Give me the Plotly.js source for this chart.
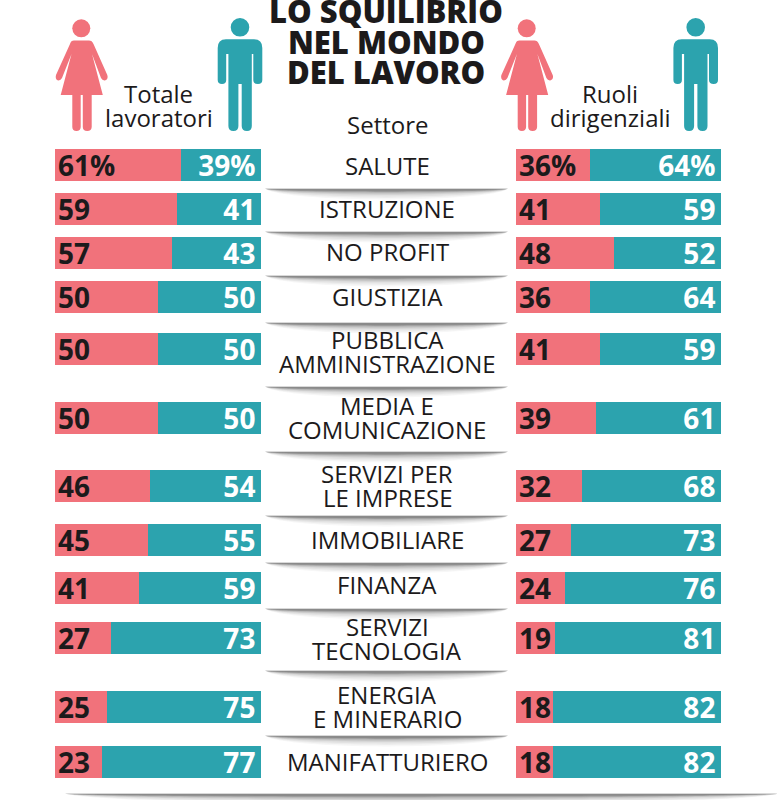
<!DOCTYPE html>
<html>
<head>
<meta charset="utf-8">
<script src="https://cdn.plot.ly/plotly-3.0.1.min.js"></script>
<style>html,body{margin:0;padding:0;background:#fff}#c{width:777px;height:800px}</style>
</head>
<body>
<div id="c"></div>
<script>
const categories = ["SALUTE","ISTRUZIONE","NO PROFIT","GIUSTIZIA","PUBBLICA<br>AMMINISTRAZIONE","MEDIA E<br>COMUNICAZIONE","SERVIZI PER<br>LE IMPRESE","IMMOBILIARE","FINANZA","SERVIZI<br>TECNOLOGIA","ENERGIA<br>E MINERARIO","MANIFATTURIERO"];
const totalWomen = [61,59,57,50,50,50,46,45,41,27,25,23];
const totalMen = [39,41,43,50,50,50,54,55,59,73,75,77];
const leadWomen = [36,41,48,36,41,39,32,27,24,19,18,18];
const leadMen = [64,59,52,64,59,61,68,73,76,81,82,82];
const titleLines = ["LO SQUILIBRIO","NEL MONDO","DEL LAVORO"];

const W = 777, H = 800;
const CORAL = "#f1727b", TEAL = "#2ca3ae", INK = "#1c1a1b";
const rowCenters = [165,209,253,297,349,418,486,540,588,638,707,762];
const labelCenters = [165,208,252,296,351,417,485,539,584,638,706,761];
const separators = [190,233,277,324,388,453,517,564,610,672,737];
const FONT = "'Open Sans', sans-serif";

const pad = '<span style="font-size:10px">\u00a0</span>';
const labels = (vals,trail) => vals.map((v,i) => (i === 0 ? v + "%" : String(v)) + (trail ? pad : ""));
function bar(vals, color, txt, anchor, xa, name){
  return {type:"bar", orientation:"h", x:vals, y:rowCenters, xaxis:xa, yaxis:"y", name:name,
    width:32, marker:{color:color,line:{width:0}}, text:labels(vals, anchor==="end"), textposition:"inside",
    insidetextanchor:anchor, textangle:0, constraintext:"none",
    insidetextfont:{family:FONT,size:28,color:txt,weight:700}, hoverinfo:"skip", showlegend:false};
}
const data = [
  bar(totalWomen, CORAL, INK, "start", "x", "Donne"),
  bar(totalMen, TEAL, "#ffffff", "end", "x", "Uomini"),
  bar(leadWomen, CORAL, INK, "start", "x2", "Donne"),
  bar(leadMen, TEAL, "#ffffff", "end", "x2", "Uomini")
];

const conv = s => s.replace(/(-?[\d.]+),(-?[\d.]+)/g, (m,a,b) => (a/W).toFixed(5)+","+(1-b/H).toFixed(5));
const pathShape = (d,color,op) => ({type:"path",xref:"paper",yref:"paper",path:conv(d),fillcolor:color,opacity:op===undefined?1:op,line:{width:0},layer:"below"});
const circle = (cx,cy,r,color) => ({type:"circle",xref:"paper",yref:"paper",x0:(cx-r)/W,x1:(cx+r)/W,y0:1-(cy+r)/H,y1:1-(cy-r)/H,fillcolor:color,line:{width:0},layer:"below"});

function woman(dx){
  const t = d => d.replace(/(-?[\d.]+),(-?[\d.]+)/g,(m,a,b)=>(+a+dx)+","+b);
  return [
    circle(81.3+dx,28.3,9,CORAL),
    pathShape(t("M 74,40.5 L 89,40.5 Q 92,40.5 93.5,44 L 107.3,75 Q 108.5,79 105.5,80.3 Q 102.5,81 101,78 L 92,54 L 102.8,95 L 91.7,95 L 91.7,127 Q 91.5,131 87.2,131 Q 82.9,131 82.8,127 L 82.8,95 L 80.7,95 L 80.7,127 Q 80.5,131 76.5,131 Q 72.4,131 72.3,127 L 72.3,95 L 60.7,95 L 71.5,54 L 62,78 Q 60.5,81 57.5,80.3 Q 55,79 56,75 L 70,44 Q 71,40.5 74,40.5 Z"),CORAL)
  ];
}
function man(dx){
  const t = d => d.replace(/(-?[\d.]+),(-?[\d.]+)/g,(m,a,b)=>(+a+dx)+","+b);
  return [
    circle(240+dx,27.3,9.3,TEAL),
    pathShape(t("M 226,39.3 L 254,39.3 Q 262.3,39.3 262.3,48 L 262.3,80 Q 262.3,84 258,84 Q 253.3,84 253.3,80 L 253.3,54 L 251.8,54 L 251.8,126 Q 251.8,131 247,131 Q 241.7,131 241.7,126 L 241.7,84 L 238.4,84 L 238.4,126 Q 238.4,131 233.4,131 Q 228.4,131 228.4,126 L 228.4,54 L 226.2,54 L 226.2,80 Q 226.2,84 222,84 Q 217.7,84 217.7,80 L 217.7,48 Q 217.7,39.3 226,39.3 Z"),TEAL)
  ];
}
function shadow(y,x0,x1){
  const out=[], span=x1-x0;
  [[13,0.04],[11,0.05],[9,0.06],[7,0.08],[5.5,0.1],[4,0.12],[3,0.15],[2,0.18]].forEach(([h,o])=>{
    const a=x0+span*0.08, b=x1-span*0.08;
    out.push(pathShape(`M ${x0},${y-1.2} L ${x1},${y-1.2} C ${b},${y+h} ${a},${y+h} ${x0},${y-1.2} Z`,"#333333",o));
  });
  return out;
}
const shapes = [...woman(0),...man(0),...woman(445.4),...man(455.7)];
separators.forEach(y=>shapes.push(...shadow(y,265,508)));
shapes.push(...shadow(795,65,778));

const annotations = [];
const txt = (s,x,y,size,weight,color) => annotations.push({text:s,xref:"paper",yref:"paper",x:x/W,y:1-y/H,xanchor:"center",yanchor:"middle",showarrow:false,font:{family:FONT,size:size,color:color||INK,weight:weight||400}});
titleLines.forEach((s,i)=>txt(s,386,[11,42,72][i],31,800));
txt("Settore",387,124,24);
txt("Totale",158,94,24); txt("lavoratori",159,118,24);
txt("Ruoli",610,94,24); txt("dirigenziali",610,118,24);
categories.forEach((c,i)=>{
  const lines=c.split("<br>");
  lines.forEach((s,j)=>txt(s,387,labelCenters[i]+(j-(lines.length-1)/2)*24,24));
});

const layout = {
  width:W,height:H,margin:{l:0,r:0,t:0,b:0},paper_bgcolor:"#fff",plot_bgcolor:"rgba(0,0,0,0)",
  barmode:"stack",bargap:0,showlegend:false,
  xaxis:{domain:[55/W,261/W],range:[0,100],visible:false,fixedrange:true},
  xaxis2:{domain:[516/W,721/W],range:[0,100],visible:false,fixedrange:true,anchor:"y"},
  yaxis:{domain:[0,1],range:[H,0],visible:false,fixedrange:true},
  shapes:shapes,annotations:annotations
};
Plotly.newPlot("c",data,layout,{displayModeBar:false,staticPlot:true});
</script>
</body>
</html>
